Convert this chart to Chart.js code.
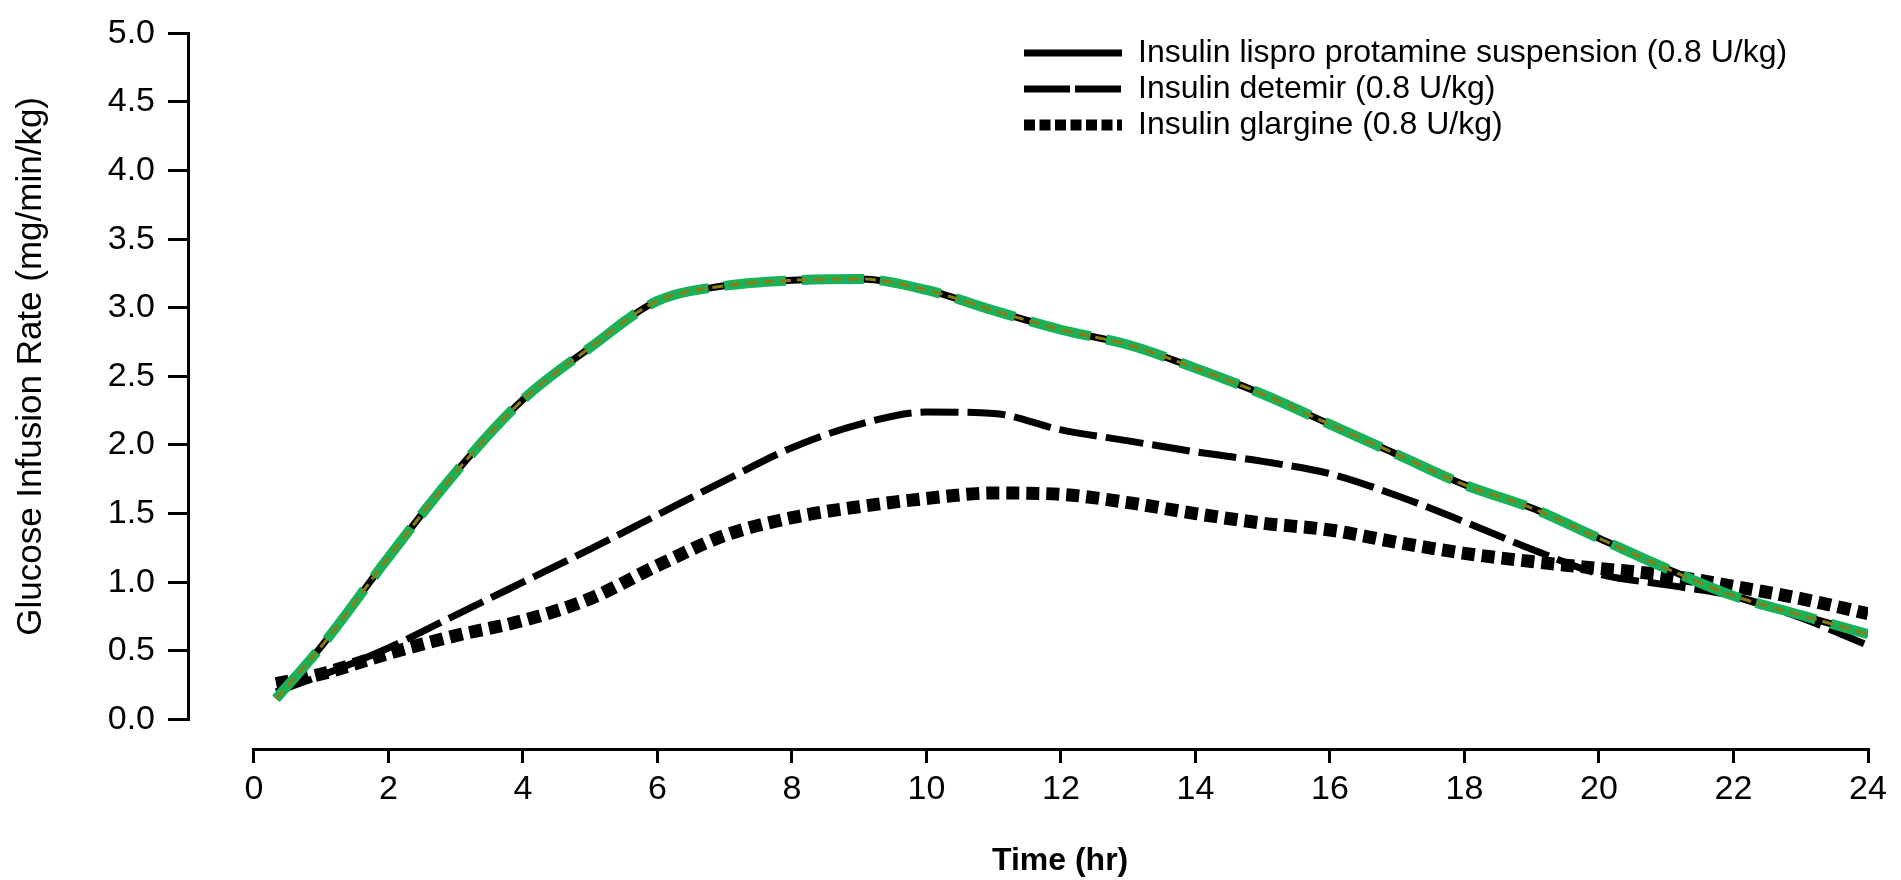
<!DOCTYPE html>
<html>
<head>
<meta charset="utf-8">
<title>Glucose infusion rate</title>
<script src="https://cdn.jsdelivr.net/npm/chart.js@4.4.1/dist/chart.umd.min.js"></script>
<style>
html, body { margin: 0; padding: 0; background: #fff; }
#wrap { position: relative; width: 1901px; height: 880px; }
</style>
</head>
<body>
<div id="wrap"><canvas id="girChart"></canvas></div>
<script>
// values
var hours    = [0.33, 1, 2, 3, 4, 5, 6, 7, 8, 9, 10, 11, 12, 13, 14, 15, 16, 17, 18, 19, 20, 21, 22, 23, 24];
var lispro   = [0.15, 0.53, 1.18, 1.80, 2.33, 2.71, 3.05, 3.16, 3.20, 3.21, 3.13, 2.98, 2.84, 2.73, 2.56, 2.37, 2.15, 1.93, 1.71, 1.54, 1.32, 1.10, 0.90, 0.76, 0.62];
var detemir  = [0.20, 0.32, 0.52, 0.76, 1.00, 1.24, 1.49, 1.74, 1.98, 2.15, 2.24, 2.23, 2.11, 2.03, 1.95, 1.88, 1.79, 1.63, 1.44, 1.24, 1.06, 0.98, 0.90, 0.74, 0.54];
var glargine = [0.26, 0.33, 0.48, 0.61, 0.72, 0.88, 1.12, 1.34, 1.47, 1.55, 1.61, 1.65, 1.64, 1.58, 1.50, 1.43, 1.38, 1.29, 1.21, 1.15, 1.10, 1.05, 0.97, 0.88, 0.77];

var seriesNames = [
    'Insulin lispro protamine suspension (0.8 U/kg)',
    'Insulin detemir (0.8 U/kg)',
    'Insulin glargine (0.8 U/kg)'
];
var xTicks = [0, 2, 4, 6, 8, 10, 12, 14, 16, 18, 20, 22, 24];
var yTicks = [0, 0.5, 1, 1.5, 2, 2.5, 3, 3.5, 4, 4.5, 5];

// legend sample styles (dash, width)
var legendDash  = [[], [46, 5], [11, 4.5]];
var legendWidth = [7, 7, 11];

function toPoints(arr) {
    return hours.map(function(h, i) { return { x: h, y: arr[i] }; });
}

Chart.defaults.font.family = '"Liberation Sans", Arial, sans-serif';
Chart.defaults.color = '#000';

// R-style detached axis lines + legend placed inside the plot
var detachedAxes = {
    id: 'detachedAxes',
    afterLayout: function(chart) {
        var lg = chart.legend;
        if (!lg) return;
        lg.left = 1020;
        lg.top = 33;
        lg.right = lg.left + lg.width;
        lg.bottom = lg.top + 200;
    },
    afterDraw: function(chart) {
        var xs = chart.scales.x, ys = chart.scales.y, ctx = chart.ctx;
        var area = chart.chartArea;
        ctx.save();
        ctx.strokeStyle = '#000';
        ctx.lineWidth = 3;
        ctx.beginPath();
        ctx.moveTo(area.left - 1.5, ys.getPixelForValue(yTicks[0]) + 1.5);
        ctx.lineTo(area.left - 1.5, ys.getPixelForValue(yTicks[yTicks.length - 1]) - 1.5);
        ctx.moveTo(xs.getPixelForValue(xTicks[0]) - 1.5, area.bottom + 1.5);
        ctx.lineTo(xs.getPixelForValue(xTicks[xTicks.length - 1]) + 1.5, area.bottom + 1.5);
        ctx.stroke();
        ctx.restore();
    }
};

var ctx = document.getElementById('girChart').getContext('2d');
var girChart = new Chart(ctx, {
    type: 'line',
    data: {
        datasets: [
            {
                label: 'lispro trace inner',
                data: toPoints(lispro),
                borderColor: '#8b7d12',
                borderWidth: 3,
                borderDash: [11, 6],
                order: 0
            },
            {
                label: 'lispro trace',
                data: toPoints(lispro),
                borderColor: '#17b25a',
                borderWidth: 10,
                borderDash: [62, 16],
                order: 1
            },
            {
                label: seriesNames[0],
                data: toPoints(lispro),
                borderColor: '#000',
                backgroundColor: '#000',
                borderWidth: 7,
                order: 2
            },
            {
                label: seriesNames[1],
                data: toPoints(detemir),
                borderColor: '#000',
                backgroundColor: '#000',
                borderWidth: 7,
                borderDash: [38, 9],
                order: 3
            },
            {
                label: seriesNames[2],
                data: toPoints(glargine),
                borderColor: '#000',
                backgroundColor: '#000',
                borderWidth: 13,
                borderDash: [13, 7],
                order: 4
            }
        ]
    },
    options: {
        responsive: true,
        maintainAspectRatio: false,
        animation: false,
        layout: { padding: { top: 24, right: 33, bottom: 0, left: 0 } },
        elements: {
            point: { radius: 0 },
            line: { cubicInterpolationMode: 'monotone', borderCapStyle: 'butt', fill: false }
        },
        plugins: {
            tooltip: { enabled: false },
            legend: {
                position: 'chartArea',
                align: 'start',
                labels: {
                    usePointStyle: true,
                    pointStyle: 'line',
                    pointStyleWidth: 98,
                    padding: 4,
                    color: '#000',
                    font: { size: 32 },
                    filter: function(item) { return seriesNames.indexOf(item.text) >= 0; },
                    generateLabels: function(chart) {
                        var items = Chart.defaults.plugins.legend.labels.generateLabels(chart);
                        items.forEach(function(it) {
                            var k = seriesNames.indexOf(it.text);
                            if (k >= 0) {
                                it.lineDash = legendDash[k];
                                it.lineWidth = legendWidth[k];
                                it.strokeStyle = '#000';
                            }
                        });
                        return items;
                    }
                }
            }
        },
        scales: {
            x: {
                type: 'linear',
                min: -0.95,
                max: 24,
                afterBuildTicks: function(axis) {
                    axis.ticks = xTicks.map(function(v) { return { value: v }; });
                },
                afterFit: function(axis) { axis.height = 132; },
                border: { display: false },
                grid: {
                    drawOnChartArea: false,
                    drawTicks: true,
                    tickLength: 15,
                    tickWidth: 3,
                    tickColor: '#000'
                },
                ticks: {
                    autoSkip: false,
                    maxRotation: 0,
                    padding: 6,
                    color: '#000',
                    font: { size: 34 }
                },
                title: {
                    display: true,
                    // leading spaces centre the title under the 0-24 axis line
                    text: '       Time (hr)',
                    color: '#000',
                    font: { size: 32, weight: 'bold' },
                    padding: { top: 0, bottom: 0 }
                }
            },
            y: {
                type: 'linear',
                min: -0.209,
                max: 5,
                afterBuildTicks: function(axis) {
                    axis.ticks = yTicks.map(function(v) { return { value: v }; });
                },
                afterFit: function(axis) { axis.width = 190; },
                border: { display: false },
                grid: {
                    drawOnChartArea: false,
                    drawTicks: true,
                    tickLength: 22,
                    tickWidth: 3,
                    tickColor: '#000'
                },
                ticks: {
                    padding: 13,
                    color: '#000',
                    font: { size: 34 },
                    callback: function(value) { return Number(value).toFixed(1); }
                },
                title: {
                    display: true,
                    text: '     Glucose Infusion Rate (mg/min/kg)',
                    color: '#000',
                    font: { size: 35 },
                    padding: { top: 10, bottom: 0 }
                }
            }
        }
    },
    plugins: [detachedAxes]
});
</script>
</body>
</html>
